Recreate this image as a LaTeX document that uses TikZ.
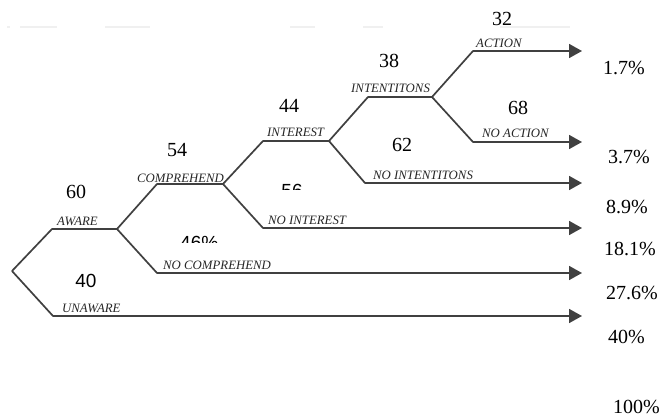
\documentclass[tikz,border=0pt]{standalone}
\usepackage{fontspec}
\setmainfont{Liberation Serif}
\newfontfamily\numsans{Liberation Sans}
\usetikzlibrary{arrows.meta}
\begin{document}
\begin{tikzpicture}[x=1pt,y=-1pt,
  branch/.style={draw=black!75,line width=1.7pt,line join=round},
  arr/.style={branch,-{Triangle[length=13pt,width=14pt]}},
  lab/.style={anchor=base west,inner sep=0pt,text=black!85,font=\fontsize{12.8}{14}\selectfont\itshape},
  num/.style={anchor=base,inner sep=0pt,font=\fontsize{20}{22}\selectfont},
  snum/.style={anchor=base,inner sep=0pt,font=\numsans\fontsize{19}{21}\selectfont},
  pct/.style={anchor=base west,inner sep=0pt,font=\fontsize{20}{22}\selectfont},
  faint/.style={draw=black!6,line width=1.2pt}]
\useasboundingbox (0,0) rectangle (661,417);
% faint artefact line at top
\draw[faint] (7,27) -- (10,27);
\draw[faint] (20,27) -- (57,27);
\draw[faint] (105,27) -- (150,27);
\draw[faint] (290,27) -- (315,27);
\draw[faint] (363,27) -- (383,27);
\draw[faint] (500,27) -- (570,27);
% branch points
\coordinate (root) at (12,271);
\coordinate (aw1) at (52,229);  \coordinate (aw2) at (117,229);
\coordinate (un1) at (53,316);  \coordinate (unE) at (582,316);
\coordinate (co1) at (157,184); \coordinate (co2) at (223,184);
\coordinate (nc1) at (157,273); \coordinate (ncE) at (582,273);
\coordinate (in1) at (263,141); \coordinate (in2) at (329,141);
\coordinate (ni1) at (263,228); \coordinate (niE) at (582,228);
\coordinate (it1) at (368,97);  \coordinate (it2) at (432,97);
\coordinate (nt1) at (365,183); \coordinate (ntE) at (582,183);
\coordinate (ac1) at (473,51);  \coordinate (acE) at (582,51);
\coordinate (na1) at (473,142); \coordinate (naE) at (582,142);
% connectors
\draw[branch] (root) -- (aw1) -- (aw2);
\draw[arr] (root) -- (un1) -- (unE);
\draw[branch] (aw2) -- (co1) -- (co2);
\draw[arr] (aw2) -- (nc1) -- (ncE);
\draw[branch] (co2) -- (in1) -- (in2);
\draw[arr] (co2) -- (ni1) -- (niE);
\draw[branch] (in2) -- (it1) -- (it2);
\draw[arr] (in2) -- (nt1) -- (ntE);
\draw[arr] (it2) -- (ac1) -- (acE);
\draw[arr] (it2) -- (na1) -- (naE);
% branch labels
\node[lab] (lAware) at (57,225) {AWARE};
\node[lab] (lUnaware) at (62,312) {UNAWARE};
\node[lab] (lComp) at (137,182) {COMPREHEND};
\node[lab] (lNoComp) at (163,269.5) {NO COMPREHEND};
\node[lab] (lInt) at (267,137) {INTEREST};
\node[lab] (lNoInt) at (268,224) {NO INTEREST};
\node[lab] (lIntent) at (351,93) {INTENTITONS};
\node[lab] (lNoIntent) at (373,179) {NO INTENTITONS};
\node[lab] (lAct) at (476,48) {ACTION};
\node[lab] (lNoAct) at (482,138) {NO ACTION};
% numbers
\node[num] (n60) at (76,198) {60};
\node[num] (n54) at (177,157) {54};
\node[num] (n44) at (289,113) {44};
\node[num] (n38) at (389,68) {38};
\node[num] (n32) at (502,26) {32};
\node[num] (n68) at (518,115) {68};
\node[num] (n62) at (402,152) {62};
% clipped numbers
\begin{scope}
  \clip (270,170) rectangle (315,189.5);
  \node[snum] (n56) at (292,197) {56};
\end{scope}
\begin{scope}
  \clip (170,225) rectangle (230,242);
  \node[snum,anchor=base west] (n46) at (180,249) {46\%};
\end{scope}
\begin{scope}
  \clip (65,262) rectangle (110,287);
  \node[snum] (n40) at (86,287.5) {40};
\end{scope}
% percentages
\node[pct] (p1) at (603,75) {1.7\%};
\node[pct] (p2) at (608,163) {3.7\%};
\node[pct] (p3) at (606,213) {8.9\%};
\node[pct] (p4) at (604,255) {18.1\%};
\node[pct] (p5) at (606,299) {27.6\%};
\node[pct] (p6) at (608,343) {40\%};
\node[pct] (p7) at (613,413) {100\%};
\end{tikzpicture}
\end{document}
